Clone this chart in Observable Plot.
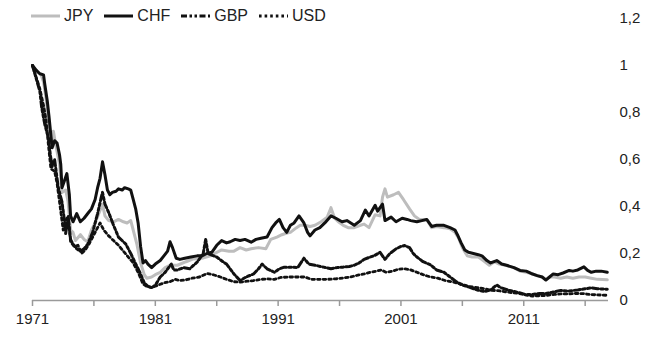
<!DOCTYPE html>
<html>
<head>
<meta charset="utf-8">
<script src="https://cdn.jsdelivr.net/npm/d3@7"></script>
<script src="https://cdn.jsdelivr.net/npm/@observablehq/plot@0.6"></script>
<style>
  html, body { margin: 0; padding: 0; background: #fff; }
  #wrap { position: relative; width: 660px; height: 355px; font-family: "Liberation Sans", Arial, Helvetica, sans-serif; }
  #legend { position: absolute; left: 31px; top: 7px; display: flex; align-items: center; font-size: 16px; color: #222; }
  .item { display: flex; align-items: center; margin-right: 11px; }
  .item svg { margin-right: 4px; }
</style>
</head>
<body>
<div id="wrap">
  <div id="chart"></div>
  <div id="legend"></div>
</div>
<script>
// Series labels
const seriesNames = ["JPY", "CHF", "GBP", "USD"];

// [year, value] readings
const jpyValues = [
[1971.0,1.0],[1971.3,0.975],[1971.7,0.96],[1971.9,0.93],[1972.1,0.86],[1972.3,0.77],[1972.5,0.66],[1972.7,0.72],[1972.9,0.66],
[1973.2,0.58],[1973.4,0.46],[1973.7,0.47],[1973.9,0.42],[1974.1,0.30],[1974.3,0.29],[1974.5,0.255],[1974.9,0.28],[1975.2,0.26],
[1975.5,0.25],[1975.8,0.3],[1976.1,0.33],[1976.4,0.37],[1976.7,0.41],[1976.9,0.36],[1977.2,0.34],[1977.6,0.335],[1978.0,0.345],
[1978.4,0.335],[1978.7,0.33],[1979.0,0.34],[1979.2,0.3],[1979.5,0.24],[1979.8,0.16],[1980.1,0.11],[1980.3,0.095],[1980.7,0.1],
[1981.0,0.11],[1981.4,0.12],[1981.8,0.14],[1982.2,0.15],[1982.8,0.15],[1983.5,0.165],[1984.1,0.177],[1984.8,0.18],[1985.5,0.19],
[1986.0,0.205],[1986.4,0.215],[1987.0,0.21],[1987.4,0.21],[1987.9,0.225],[1988.4,0.215],[1988.8,0.22],[1989.4,0.225],[1990.0,0.22],
[1990.4,0.26],[1990.9,0.27],[1991.3,0.28],[1991.6,0.285],[1992.0,0.29],[1992.5,0.31],[1992.8,0.32],[1993.2,0.32],[1993.6,0.315],
[1994.0,0.32],[1994.5,0.335],[1995.0,0.355],[1995.3,0.395],[1995.6,0.35],[1995.9,0.335],[1996.3,0.32],[1996.7,0.31],[1997.2,0.31],
[1997.7,0.32],[1998.0,0.325],[1998.4,0.31],[1998.9,0.365],[1999.3,0.36],[1999.5,0.44],[1999.7,0.475],[1999.9,0.44],[2000.4,0.45],
[2000.8,0.46],[2001.2,0.43],[2001.7,0.39],[2002.1,0.36],[2002.5,0.345],[2003.1,0.345],[2003.5,0.31],[2003.9,0.315],[2004.5,0.31],
[2005.0,0.305],[2005.4,0.29],[2005.7,0.265],[2006.0,0.225],[2006.4,0.19],[2006.8,0.185],[2007.3,0.185],[2007.7,0.17],[2008.2,0.15],
[2008.6,0.165],[2009.0,0.155],[2009.5,0.15],[2010.2,0.14],[2010.7,0.125],[2011.2,0.12],[2011.6,0.115],[2012.1,0.105],[2012.5,0.1],
[2012.8,0.09],[2013.1,0.1],[2013.5,0.1],[2014.0,0.095],[2014.5,0.1],[2015.0,0.095],[2015.5,0.1],[2016.0,0.1],[2016.5,0.095],
[2017.0,0.09],[2017.8,0.088]
];

const chfValues = [
[1971.0,1.0],[1971.3,0.98],[1971.6,0.965],[1971.9,0.96],[1972.0,0.92],[1972.2,0.85],[1972.35,0.78],[1972.5,0.70],[1972.6,0.65],
[1972.8,0.68],[1973.0,0.67],[1973.2,0.62],[1973.3,0.58],[1973.4,0.48],[1973.6,0.51],[1973.8,0.54],[1974.0,0.45],[1974.1,0.36],
[1974.3,0.335],[1974.6,0.37],[1974.9,0.335],[1975.2,0.35],[1975.5,0.37],[1975.8,0.39],[1976.1,0.43],[1976.3,0.48],[1976.5,0.52],
[1976.7,0.59],[1976.9,0.535],[1977.1,0.47],[1977.3,0.45],[1977.5,0.46],[1977.8,0.465],[1978.0,0.475],[1978.3,0.47],[1978.5,0.48],
[1978.8,0.475],[1979.0,0.47],[1979.2,0.43],[1979.4,0.39],[1979.6,0.33],[1979.8,0.23],[1980.0,0.16],[1980.2,0.17],[1980.4,0.155],
[1980.7,0.14],[1981.0,0.155],[1981.4,0.17],[1981.7,0.19],[1982.0,0.21],[1982.2,0.25],[1982.4,0.225],[1982.7,0.18],[1983.0,0.175],
[1983.4,0.18],[1983.9,0.185],[1984.4,0.19],[1984.8,0.19],[1985.2,0.2],[1985.6,0.205],[1986.0,0.235],[1986.4,0.255],[1986.8,0.245],
[1987.1,0.25],[1987.5,0.26],[1987.9,0.255],[1988.3,0.26],[1988.8,0.248],[1989.2,0.26],[1989.6,0.265],[1990.1,0.27],[1990.5,0.31],
[1990.8,0.33],[1991.1,0.345],[1991.4,0.31],[1991.7,0.29],[1992.0,0.32],[1992.3,0.33],[1992.7,0.36],[1993.1,0.33],[1993.4,0.29],
[1993.6,0.275],[1994.0,0.3],[1994.4,0.31],[1994.8,0.33],[1995.3,0.36],[1995.7,0.35],[1996.2,0.335],[1996.6,0.34],[1997.2,0.32],
[1997.7,0.34],[1998.1,0.385],[1998.4,0.36],[1998.9,0.405],[1999.1,0.38],[1999.5,0.41],[1999.7,0.34],[2000.2,0.355],[2000.6,0.335],
[2001.1,0.35],[2001.5,0.345],[2001.8,0.34],[2002.3,0.335],[2002.7,0.34],[2003.1,0.345],[2003.5,0.315],[2003.9,0.32],[2004.5,0.32],
[2005.0,0.31],[2005.4,0.3],[2005.6,0.28],[2005.9,0.245],[2006.2,0.215],[2006.5,0.205],[2006.9,0.2],[2007.3,0.195],[2007.6,0.19],
[2008.0,0.17],[2008.3,0.16],[2008.8,0.17],[2009.2,0.155],[2009.6,0.15],[2010.2,0.14],[2010.7,0.128],[2011.2,0.125],[2011.6,0.115],
[2012.1,0.106],[2012.5,0.1],[2012.8,0.087],[2013.1,0.1],[2013.4,0.113],[2013.8,0.11],[2014.2,0.117],[2014.7,0.128],[2015.0,0.125],
[2015.4,0.13],[2015.9,0.143],[2016.2,0.128],[2016.5,0.12],[2016.9,0.125],[2017.3,0.125],[2017.8,0.12]
];

const gbpValues = [
[1971.0,1.0],[1971.3,0.945],[1971.6,0.89],[1971.75,0.82],[1972.0,0.75],[1972.3,0.69],[1972.45,0.62],[1972.6,0.57],[1972.8,0.6],
[1973.1,0.48],[1973.4,0.42],[1973.6,0.34],[1973.7,0.285],[1973.9,0.355],[1974.1,0.26],[1974.3,0.24],[1974.6,0.22],[1974.9,0.21],
[1975.2,0.22],[1975.5,0.24],[1975.9,0.29],[1976.3,0.37],[1976.6,0.44],[1976.7,0.46],[1976.9,0.41],[1977.2,0.375],[1977.6,0.32],
[1978.0,0.27],[1978.6,0.24],[1979.0,0.2],[1979.4,0.156],[1979.8,0.113],[1980.1,0.075],[1980.4,0.06],[1980.7,0.055],[1981.0,0.065],
[1981.4,0.1],[1981.8,0.12],[1982.3,0.155],[1982.5,0.13],[1982.8,0.13],[1983.3,0.14],[1983.8,0.135],[1984.4,0.163],[1984.9,0.2],
[1985.1,0.26],[1985.3,0.2],[1986.0,0.185],[1986.5,0.165],[1986.8,0.155],[1987.4,0.113],[1987.9,0.085],[1988.4,0.1],[1989.0,0.113],
[1989.4,0.135],[1989.7,0.155],[1990.1,0.135],[1990.7,0.12],[1991.1,0.135],[1991.5,0.142],[1992.0,0.142],[1992.6,0.14],[1993.1,0.18],
[1993.5,0.155],[1994.0,0.15],[1994.7,0.142],[1995.3,0.135],[1995.8,0.14],[1996.3,0.142],[1996.8,0.145],[1997.2,0.15],[1997.6,0.16],
[1998.0,0.175],[1998.5,0.185],[1998.8,0.19],[1999.3,0.205],[1999.7,0.175],[2000.1,0.2],[2000.6,0.22],[2001.0,0.23],[2001.3,0.234],
[2001.7,0.225],[2002.0,0.2],[2002.3,0.185],[2002.8,0.165],[2003.4,0.152],[2003.9,0.13],[2004.5,0.12],[2005.0,0.1],[2005.5,0.08],
[2005.9,0.068],[2006.5,0.058],[2007.2,0.045],[2007.8,0.038],[2008.3,0.045],[2008.8,0.066],[2009.1,0.055],[2009.8,0.043],[2010.5,0.035],
[2011.1,0.026],[2011.7,0.026],[2012.3,0.03],[2012.8,0.03],[2013.3,0.035],[2014.0,0.043],[2014.6,0.04],[2015.4,0.045],[2016.0,0.05],
[2016.5,0.054],[2017.0,0.05],[2017.8,0.048]
];

const usdValues = [
[1971.0,1.0],[1971.3,0.95],[1971.6,0.9],[1971.9,0.83],[1972.1,0.77],[1972.3,0.66],[1972.5,0.56],[1972.8,0.55],[1973.0,0.5],
[1973.2,0.42],[1973.5,0.3],[1973.7,0.34],[1973.9,0.36],[1974.1,0.25],[1974.4,0.23],[1974.7,0.235],[1975.0,0.2],[1975.3,0.215],
[1975.6,0.24],[1975.9,0.27],[1976.2,0.3],[1976.5,0.33],[1976.8,0.3],[1977.2,0.275],[1977.6,0.255],[1978.0,0.235],[1978.4,0.21],
[1978.8,0.185],[1979.2,0.16],[1979.6,0.12],[1980.0,0.07],[1980.3,0.06],[1980.7,0.055],[1981.2,0.065],[1981.7,0.075],[1982.2,0.08],
[1982.6,0.09],[1983.0,0.085],[1983.5,0.088],[1984.0,0.095],[1984.6,0.1],[1985.2,0.115],[1985.7,0.11],[1986.3,0.1],[1986.8,0.09],
[1987.4,0.08],[1987.9,0.078],[1988.5,0.082],[1989.0,0.085],[1989.6,0.09],[1990.1,0.092],[1990.7,0.09],[1991.2,0.098],[1991.8,0.1],
[1992.5,0.1],[1993.2,0.1],[1993.7,0.09],[1994.3,0.09],[1995.0,0.09],[1995.7,0.092],[1996.3,0.096],[1996.9,0.1],[1997.5,0.108],
[1998.0,0.113],[1998.5,0.12],[1999.0,0.125],[1999.4,0.13],[1999.8,0.12],[2000.3,0.125],[2000.8,0.133],[2001.2,0.135],[2001.7,0.132],
[2002.3,0.12],[2002.8,0.11],[2003.4,0.1],[2004.0,0.095],[2004.6,0.085],[2005.3,0.078],[2005.9,0.07],[2006.5,0.06],[2007.2,0.055],
[2007.8,0.05],[2008.4,0.043],[2008.9,0.042],[2009.5,0.037],[2010.1,0.033],[2010.6,0.03],[2011.1,0.024],[2011.7,0.019],[2012.3,0.02],
[2012.9,0.022],[2013.5,0.026],[2014.0,0.028],[2014.6,0.028],[2015.3,0.03],[2015.9,0.029],[2016.5,0.025],[2017.0,0.024],[2017.8,0.022]
];

const xTicks = [1971, 1976, 1981, 1986, 1991, 1996, 2001, 2006, 2011, 2016];
const xLabels = [1971, 1981, 1991, 2001, 2011];
const yTicks = [0, 0.2, 0.4, 0.6, 0.8, 1, 1.2];

const styles = {
  JPY: {stroke: "#bdbdbd", strokeWidth: 3, dash: null},
  CHF: {stroke: "#111111", strokeWidth: 3, dash: null},
  GBP: {stroke: "#111111", strokeWidth: 3, dash: "6 2.5 2.5 2.5 2.5 2.5"},
  USD: {stroke: "#111111", strokeWidth: 2.8, dash: "2.6 3"}
};

const toRows = arr => arr.map(([year, value]) => ({year, value}));
const seriesData = {JPY: toRows(jpyValues), CHF: toRows(chfValues), GBP: toRows(gbpValues), USD: toRows(usdValues)};

const lines = seriesNames.map(name => Plot.line(seriesData[name], {
  x: "year", y: "value",
  stroke: styles[name].stroke,
  strokeWidth: styles[name].strokeWidth,
  strokeDasharray: styles[name].dash || undefined,
  strokeLinejoin: "round"
}));

const fmtComma = d => String(+d.toFixed(1)).replace(".", ",");

const chart = Plot.plot({
  width: 660,
  height: 355,
  marginTop: 18,
  marginBottom: 55,
  marginLeft: 32,
  marginRight: 52,
  style: {fontFamily: '"Liberation Sans", Arial, Helvetica, sans-serif', fontSize: "15px", color: "#222", background: "#fff"},
  x: {domain: [1971, 2017.9]},
  y: {domain: [0, 1.2]},
  marks: [
    Plot.axisY({anchor: "right", ticks: yTicks, tickSize: 0, tickPadding: 11, tickFormat: fmtComma, label: null, fill: "#222"}),
    Plot.axisX({ticks: xTicks, tickSize: 6, tickPadding: 7, tickFormat: d => xLabels.includes(d) ? String(d) : "", label: null, stroke: "#9a9a9a", strokeWidth: 1.5, fill: "#222"}),
    Plot.ruleY([0], {stroke: "#9a9a9a", strokeWidth: 1.5}),
    ...lines
  ]
});
document.getElementById("chart").appendChild(chart);

// Legend
const legend = document.getElementById("legend");
for (const name of seriesNames) {
  const s = styles[name];
  const item = document.createElement("div");
  item.className = "item";
  const svg = d3.create("svg").attr("width", 29).attr("height", 10);
  svg.append("line").attr("x1", 0).attr("x2", 29).attr("y1", 5).attr("y2", 5)
    .attr("stroke", s.stroke).attr("stroke-width", s.strokeWidth)
    .attr("stroke-dasharray", s.dash);
  item.appendChild(svg.node());
  const label = document.createElement("span");
  label.textContent = name;
  item.appendChild(label);
  legend.appendChild(item);
}
</script>
</body>
</html>
